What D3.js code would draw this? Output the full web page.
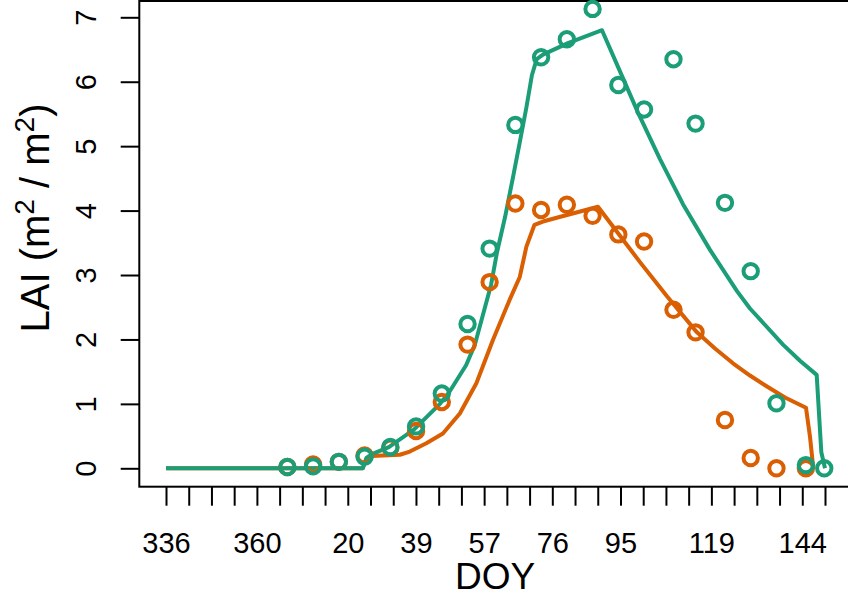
<!DOCTYPE html>
<html>
<head>
<meta charset="utf-8">
<script src="https://cdn.jsdelivr.net/npm/d3@7/dist/d3.min.js"></script>
<style>
  html, body { margin: 0; padding: 0; background: #fff; }
  svg { display: block; font-family: "Liberation Sans", Arial, Helvetica, sans-serif; }
</style>
</head>
<body>
<svg id="chart" width="848" height="594"></svg>
<script>
// Day numbers run on past 365 so the season crosses the new year without a break.
// Observation dates (weekly sampling).
const obsDays = [369, 376, 383, 390, 397, 404, 411, 418, 424, 431, 438, 445, 452, 459, 466, 474, 480, 488, 495, 502, 510, 515];
// Observed LAI, treatment A (green) and treatment B (orange).
const obsGreen  = [0.02, 0.03, 0.10, 0.18, 0.33, 0.65, 1.16, 2.24, 3.41, 5.33, 6.38, 6.66, 7.13, 5.95, 5.57, 6.35, 5.35, 4.12, 3.06, 1.01, 0.05, 0.00];
const obsOrange = [0.02, 0.06, 0.10, 0.20, 0.32, 0.58, 1.03, 1.92, 2.89, 4.11, 4.01, 4.09, 3.92, 3.63, 3.52, 2.46, 2.11, 0.75, 0.16, 0.00, 0.00, null];

// Simulated LAI trajectories.
const simGreenDays = [336, 389.5, 390.5, 392, 396.6, 403.4, 410.5, 413, 417.6, 420, 424.4, 426, 428.2, 430.3, 432, 434, 435.5, 436.8, 438.5, 445.3, 454.56, 459.45, 464.35, 470.33, 476.58, 483.93, 491.27, 494.8, 503.78, 508.4, 512.94, 514.2, 515.2];
const simGreen     = [0, 0, 0.16, 0.22, 0.33, 0.60, 1.00, 1.18, 1.60, 1.92, 2.85, 3.35, 3.90, 4.50, 5.00, 5.60, 6.10, 6.35, 6.42, 6.60, 6.80, 6.16, 5.52, 4.80, 4.10, 3.39, 2.75, 2.48, 1.92, 1.67, 1.45, 0.25, 0.00];
const simOrangeDays = [336, 389.5, 390.5, 392, 399.6, 402.3, 406.8, 411.3, 415.9, 420.4, 424.9, 429.4, 432.2, 434, 436.2, 438.5, 443, 453.47, 459.45, 464.89, 472.23, 480.39, 485.29, 490.18, 494.8, 499.43, 504.32, 510.03, 511.12, 512.02];
const simOrange     = [0, 0, 0.15, 0.19, 0.21, 0.26, 0.39, 0.54, 0.85, 1.32, 1.99, 2.61, 2.97, 3.44, 3.78, 3.83, 3.90, 4.06, 3.61, 3.20, 2.67, 2.11, 1.86, 1.63, 1.44, 1.27, 1.10, 0.94, 0.49, 0.00];

// Axis: 30 evenly spaced ticks; only non-overlapping labels are printed.
const tickStart = 336, tickEnd = 515.2, tickCount = 30;
const tickLabels = ["336", "360", "20", "39", "57", "76", "95", "119", "144"];
const labelledTicks = [0, 4, 8, 11, 14, 17, 20, 24, 28];
const yTicks = [0, 1, 2, 3, 4, 5, 6, 7];

const GREEN = "#1B9E77", ORANGE = "#D95F02";

const svg = d3.select("#chart");
const x = d3.scaleLinear().domain([tickStart, tickEnd]).range([166, 825]);
const y = d3.scaleLinear().domain([0, 7]).range([468.3, 17.3]);

const box = { left: 139.3, top: 1, right: 862, bottom: 486.7 };

// x axis
const xTickVals = d3.range(tickCount).map(i => tickStart + i * (tickEnd - tickStart) / (tickCount - 1));
const xAxis = d3.axisBottom(x)
  .tickValues(xTickVals)
  .tickSize(19)
  .tickFormat((d, i) => {
    const k = labelledTicks.indexOf(i);
    return k >= 0 ? tickLabels[k] : "";
  });
const gx = svg.append("g").attr("transform", `translate(0,${box.bottom})`).call(xAxis);
gx.select(".domain").remove();
gx.selectAll(".tick line").attr("stroke", "#000").attr("stroke-width", 2);
gx.selectAll(".tick text")
  .attr("y", 66.3).attr("dy", null)
  .attr("fill", "#000").attr("font-size", 29)
  .attr("font-family", "Liberation Sans, Arial, sans-serif");

// y axis
const yAxis = d3.axisLeft(y).tickValues(yTicks).tickSize(18.6).tickFormat(d3.format("d"));
const gy = svg.append("g").attr("transform", `translate(${box.left},0)`).call(yAxis);
gy.select(".domain").remove();
gy.selectAll(".tick line").attr("stroke", "#000").attr("stroke-width", 2);
gy.selectAll(".tick text")
  .attr("x", null).attr("dy", null)
  .attr("text-anchor", "middle")
  .attr("transform", "translate(-43,0) rotate(-90)")
  .attr("fill", "#000").attr("font-size", 29)
  .attr("font-family", "Liberation Sans, Arial, sans-serif");

// plot frame
svg.append("rect")
  .attr("x", box.left).attr("y", box.top)
  .attr("width", box.right - box.left).attr("height", box.bottom - box.top)
  .attr("fill", "none").attr("stroke", "#000").attr("stroke-width", 2);

// axis titles
svg.append("text")
  .attr("x", 495).attr("y", 589)
  .attr("text-anchor", "middle").attr("font-size", 37).attr("fill", "#000")
  .text("DOY");

const ylab = svg.append("text")
  .attr("transform", "translate(49,218) rotate(-90)")
  .attr("text-anchor", "middle").attr("font-size", 40).attr("fill", "#000");
ylab.append("tspan").text("LAI (m");
ylab.append("tspan").attr("dy", -15).attr("font-size", 28).text("2");
ylab.append("tspan").attr("dy", 15).text(" / m");
ylab.append("tspan").attr("dy", -15).attr("font-size", 28).text("2");
ylab.append("tspan").attr("dy", 15).text(")");

// simulated curves
const line = d3.line().x(d => x(d[0])).y(d => y(d[1]));
const plot = svg.append("g");
plot.append("path")
  .datum(simOrangeDays.map((d, i) => [d, simOrange[i]]))
  .attr("d", line).attr("fill", "none").attr("stroke", ORANGE)
  .attr("stroke-width", 4).attr("stroke-linejoin", "round");
plot.append("path")
  .datum(simGreenDays.map((d, i) => [d, simGreen[i]]))
  .attr("d", line).attr("fill", "none").attr("stroke", GREEN)
  .attr("stroke-width", 4).attr("stroke-linejoin", "round");

// observations
plot.append("g").selectAll("circle")
  .data(obsDays.map((d, i) => [d, obsOrange[i]]).filter(d => d[1] !== null))
  .join("circle")
  .attr("cx", d => x(d[0])).attr("cy", d => y(d[1])).attr("r", 7.2)
  .attr("fill", "none").attr("stroke", ORANGE).attr("stroke-width", 4);
plot.append("g").selectAll("circle")
  .data(obsDays.map((d, i) => [d, obsGreen[i]]))
  .join("circle")
  .attr("cx", d => x(d[0])).attr("cy", d => y(d[1])).attr("r", 7.2)
  .attr("fill", "none").attr("stroke", GREEN).attr("stroke-width", 4);
</script>
</body>
</html>
